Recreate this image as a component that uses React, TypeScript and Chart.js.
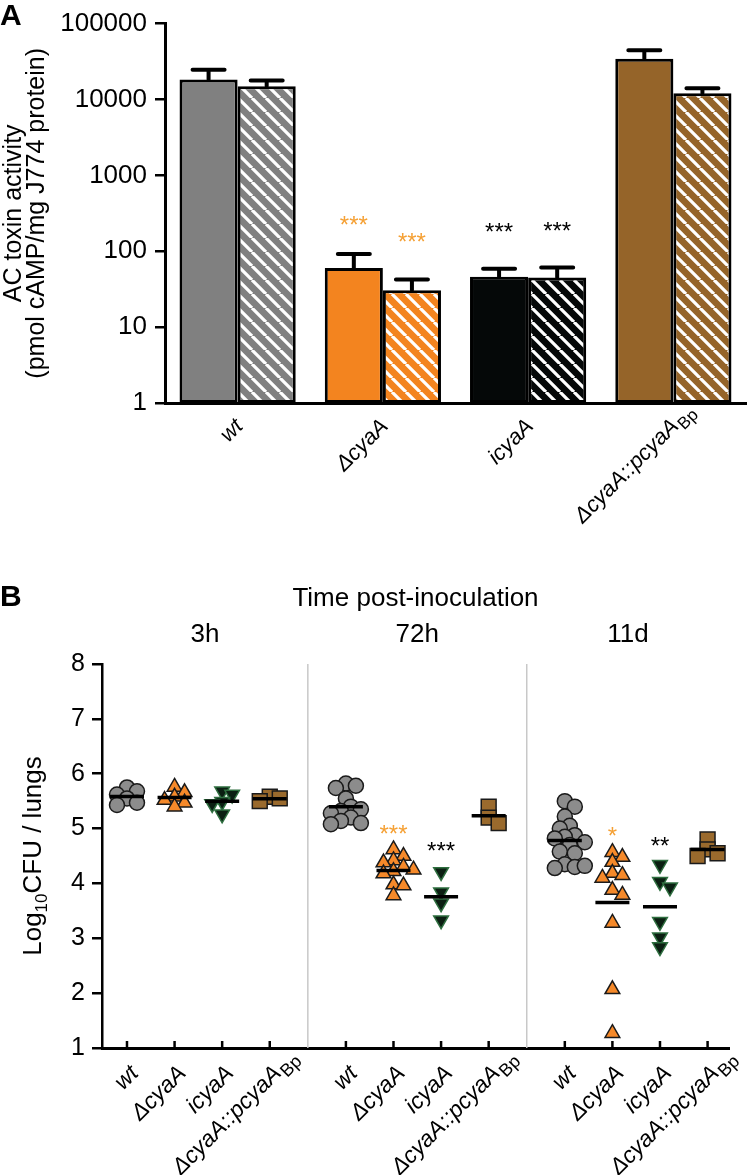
import React, { useEffect, useRef } from 'react';
import { Chart, registerables } from 'chart.js';

Chart.register(...registerables);

const FONT = '"Liberation Sans", Arial, Helvetica, sans-serif';

// ---------------- Panel A data ----------------
const strainsA = ['wt', 'ΔcyaA', 'icyaA', 'ΔcyaA::pcyaA'];
const strainSubs = ['', '', '', 'Bp'];
const solidValues = [18300, 60, 46, 34300];
const solidErr = [6400, 32, 13, 10400];
const hatchedValues = [14900, 30.5, 45, 12100];
const hatchedErr = [2900, 12, 16, 2000];
const barColors = ['#808080', '#F3841F', '#050808', '#956429'];
const yTicksA = [1, 10, 100, 1000, 10000, 100000];
const yTitleA = ['AC toxin activity', '(pmol cAMP/mg J774 protein)'];
// significance marks: [category, dataset, value at mark centre, text, colour]
const starsA: [number, number, number, string, string][] = [
  [1, 0, 269, '***', '#F5A034'],
  [1, 1, 157, '***', '#F5A034'],
  [2, 0, 212, '***', '#000000'],
  [2, 1, 218, '***', '#000000'],
];

// ---------------- Panel B data ----------------
const timeGroups = ['3h', '72h', '11d'];
const timeTitle = 'Time post-inoculation';
const wtB = [
  [5.75, 5.68, 5.62, 5.55, 5.47, 5.43],
  [5.82, 5.78, 5.74, 5.55, 5.40, 5.32, 5.35, 5.28, 5.20, 5.14, 5.10, 5.08],
  [5.50, 5.40, 5.22, 5.05, 5.00, 4.88, 4.85, 4.82, 4.75, 4.70, 4.58, 4.55, 4.35, 4.30, 4.28, 4.32],
];
const dcyaB = [
  [5.76, 5.66, 5.58, 5.52, 5.47, 5.40],
  [4.62, 4.50, 4.42, 4.38, 4.30, 4.25, 4.22, 4.18, 3.98, 3.96, 3.78],
  [4.57, 4.48, 4.39, 4.19, 4.15, 4.10, 3.88, 3.79, 3.28, 2.07, 1.27],
];
const icyaB = [
  [5.68, 5.62, 5.49, 5.45, 5.26],
  [4.21, 3.84, 3.64, 3.33],
  [4.34, 4.03, 3.93, 3.30, 3.02, 2.84],
];
const compB = [
  [5.58, 5.55, 5.50],
  [5.40, 5.20, 5.10],
  [4.80, 4.62, 4.55, 4.50],
];
const seriesB = [wtB, dcyaB, icyaB, compB];
const markerStyles = ['circle', 'triangle', 'triangle', 'rect'];
const markerRotation = [0, 0, 180, 0];
const markerRadius = [7.5, 8.5, 8.5, 10.5];
const markerFill = ['#8C8C8C', '#F5892A', '#0B1F12', '#9A6A2D'];
const markerEdge = ['#1a1a1a', '#1a1a1a', '#2E6E3F', '#1a1a1a'];
// significance marks: [group, strain, value at mark centre, text, colour]
const starsB: [number, number, number, string, string][] = [
  [1, 1, 5.01, '***', '#F5A034'],
  [1, 2, 4.70, '***', '#000000'],
  [2, 1, 4.97, '*', '#F5A034'],
  [2, 2, 4.79, '**', '#000000'],
];
const GROUP_STEP = 4.6;

// approximate pixel sizes of one data unit, used only to spread overlapping dots
const PX_X = 47.6;
const PX_Y = 54.86;

function swarm(vals: number[], minDist = 9.5, step = 5): number[] {
  const placed: [number, number][] = [];
  return vals.map((v) => {
    const y = v * PX_Y;
    for (let k = 0; k < 40; k++) {
      const off = k === 0 ? 0 : (k % 2 ? 1 : -1) * Math.ceil(k / 2) * step;
      if (placed.every(([px, py]) => Math.hypot(px - off, py - y) >= minDist)) {
        placed.push([off, y]);
        return off / PX_X;
      }
    }
    return 0;
  });
}

function hatch(color: string): CanvasPattern | string {
  const s = 14;
  const c = document.createElement('canvas');
  c.width = s;
  c.height = s;
  const g = c.getContext('2d');
  if (!g) return color;
  g.fillStyle = color;
  g.fillRect(0, 0, s, s);
  g.strokeStyle = '#ffffff';
  g.lineWidth = 3.2;
  g.beginPath();
  for (const o of [-s, 0, s]) {
    g.moveTo(o, 0);
    g.lineTo(o + s, s);
  }
  g.stroke();
  return g.createPattern(c, 'repeat') || color;
}

function drawRotLabel(ctx: CanvasRenderingContext2D, x: number, y: number, main: string, sub: string, size: number) {
  ctx.save();
  ctx.translate(x, y);
  ctx.rotate(-Math.PI / 4);
  ctx.fillStyle = '#000';
  ctx.textAlign = 'right';
  ctx.textBaseline = 'middle';
  ctx.font = `italic ${size}px ${FONT}`;
  ctx.fillText(main, 0, 0);
  if (sub) {
    ctx.textAlign = 'left';
    ctx.font = `${Math.round(size * 0.78)}px ${FONT}`;
    ctx.fillText(sub, 1, size * 0.32);
  }
  ctx.restore();
}

function drawStars(ctx: CanvasRenderingContext2D, x: number, yCenter: number, text: string, color: string, size: number) {
  ctx.save();
  ctx.font = `${size}px ${FONT}`;
  ctx.fillStyle = color;
  ctx.textAlign = 'center';
  ctx.textBaseline = 'alphabetic';
  ctx.fillText(text, x, yCenter + size * 0.58);
  ctx.restore();
}

const panelAPlugin = {
  id: 'panelA',
  afterDatasetsDraw(chart: any) {
    const { ctx, scales } = chart;
    const y = scales.y;
    const x = scales.x;
    const errs = [solidErr, hatchedErr];
    ctx.save();
    ctx.strokeStyle = '#000';
    ctx.lineWidth = 4;
    ctx.lineCap = 'round';
    [0, 1].forEach((d) => {
      const meta = chart.getDatasetMeta(d);
      meta.data.forEach((el: any, i: number) => {
        const v = chart.data.datasets[d].data[i] as number;
        const yt = y.getPixelForValue(v + errs[d][i]);
        ctx.beginPath();
        ctx.moveTo(el.x, el.y);
        ctx.lineTo(el.x, yt);
        ctx.moveTo(el.x - 16, yt);
        ctx.lineTo(el.x + 16, yt);
        ctx.stroke();
      });
    });
    ctx.restore();
    starsA.forEach(([cat, ds, val, text, color]) => {
      const el: any = chart.getDatasetMeta(ds).data[cat];
      drawStars(ctx, el.x, y.getPixelForValue(val), text, color, 24);
    });
    const axisY = chart.chartArea.bottom;
    strainsA.forEach((s, i) => {
      drawRotLabel(ctx, x.getPixelForValue(i) + 2, axisY + 20, s, strainSubs[i], 22);
    });
    ctx.save();
    ctx.font = `bold 30px ${FONT}`;
    ctx.fillStyle = '#000';
    ctx.textBaseline = 'alphabetic';
    ctx.textAlign = 'left';
    ctx.fillText('A', 0, 25);
    ctx.restore();
  },
};

const mean = (a: number[]) => a.reduce((s, v) => s + v, 0) / a.length;

const panelBPlugin = {
  id: 'panelB',
  beforeDatasetsDraw(chart: any) {
    const { ctx, scales, chartArea } = chart;
    const x = scales.x;
    ctx.save();
    ctx.strokeStyle = '#C8C8C8';
    ctx.lineWidth = 1.5;
    for (let g = 1; g < timeGroups.length; g++) {
      const px = x.getPixelForValue(g * GROUP_STEP - (GROUP_STEP - 3) / 2);
      ctx.beginPath();
      ctx.moveTo(px, chartArea.top);
      ctx.lineTo(px, chartArea.bottom);
      ctx.stroke();
    }
    ctx.restore();
  },
  afterDatasetsDraw(chart: any) {
    const { ctx, scales, chartArea } = chart;
    const x = scales.x;
    const y = scales.y;
    // mean lines
    ctx.save();
    ctx.strokeStyle = '#000';
    ctx.lineWidth = 3.5;
    seriesB.forEach((ser, s) => {
      ser.forEach((vals, g) => {
        const cx = x.getPixelForValue(g * GROUP_STEP + s);
        const cy = y.getPixelForValue(mean(vals));
        ctx.beginPath();
        ctx.moveTo(cx - 17, cy);
        ctx.lineTo(cx + 17, cy);
        ctx.stroke();
      });
    });
    // inward ticks on the x axis
    ctx.lineWidth = 2.5;
    timeGroups.forEach((_, g) => {
      strainsA.forEach((__, s) => {
        const px = x.getPixelForValue(g * GROUP_STEP + s);
        ctx.beginPath();
        ctx.moveTo(px, chartArea.bottom);
        ctx.lineTo(px, chartArea.bottom - 7);
        ctx.stroke();
      });
    });
    ctx.restore();
    starsB.forEach(([g, s, val, text, color]) => {
      drawStars(ctx, x.getPixelForValue(g * GROUP_STEP + s), y.getPixelForValue(val), text, color, 24);
    });
    // category labels
    timeGroups.forEach((_, g) => {
      strainsA.forEach((name, s) => {
        drawRotLabel(ctx, x.getPixelForValue(g * GROUP_STEP + s) + 8, chartArea.bottom + 22, name, strainSubs[s], 23);
      });
    });
    // titles
    ctx.save();
    ctx.fillStyle = '#000';
    ctx.textAlign = 'center';
    ctx.textBaseline = 'alphabetic';
    ctx.font = `26px ${FONT}`;
    ctx.fillText(timeTitle, (chartArea.left + chartArea.right) / 2, 36);
    const seps = [x.left, ...[1, 2].map((g) => x.getPixelForValue(g * GROUP_STEP - (GROUP_STEP - 3) / 2)), x.right];
    timeGroups.forEach((t, g) => {
      ctx.fillText(t, (seps[g] + seps[g + 1]) / 2, 72);
    });
    ctx.textAlign = 'left';
    ctx.font = `bold 30px ${FONT}`;
    ctx.fillText('B', 0, 36);
    ctx.restore();
    // y title with subscript
    ctx.save();
    const cy = (chartArea.top + chartArea.bottom) / 2;
    ctx.translate(41, cy);
    ctx.rotate(-Math.PI / 2);
    ctx.fillStyle = '#000';
    ctx.textBaseline = 'alphabetic';
    ctx.textAlign = 'left';
    const big = `26px ${FONT}`;
    const small = `17px ${FONT}`;
    ctx.font = big;
    const w1 = ctx.measureText('Log').width;
    const w3 = ctx.measureText('CFU / lungs').width;
    ctx.font = small;
    const w2 = ctx.measureText('10').width;
    let px = -(w1 + w2 + w3) / 2;
    ctx.font = big;
    ctx.fillText('Log', px, 0);
    px += w1;
    ctx.font = small;
    ctx.fillText('10', px, 6);
    px += w2;
    ctx.font = big;
    ctx.fillText('CFU / lungs', px, 0);
    ctx.restore();
  },
};

export default function App() {
  const refA = useRef<HTMLCanvasElement>(null);
  const refB = useRef<HTMLCanvasElement>(null);

  useEffect(() => {
    Chart.defaults.font.family = FONT;
    Chart.defaults.color = '#000';

    const chartA = new Chart(refA.current as HTMLCanvasElement, {
      type: 'bar',
      data: {
        labels: strainsA,
        datasets: [
          {
            label: 'solid',
            data: solidValues,
            backgroundColor: barColors,
            borderColor: '#000',
            borderWidth: 3,
            borderSkipped: false,
            categoryPercentage: 0.8,
            barPercentage: 1.0,
          },
          {
            label: 'hatched',
            data: hatchedValues,
            backgroundColor: barColors.map(hatch) as any,
            borderColor: '#000',
            borderWidth: 3,
            borderSkipped: false,
            categoryPercentage: 0.8,
            barPercentage: 1.0,
          },
        ],
      },
      options: {
        responsive: false,
        animation: false,
        devicePixelRatio: 1,
        events: [],
        layout: { padding: { left: 0, right: 4, top: 16, bottom: 0 } },
        plugins: { legend: { display: false }, tooltip: { enabled: false } },
        scales: {
          x: {
            type: 'category',
            grid: { display: false },
            border: { display: true, color: '#000', width: 3 },
            ticks: { display: false },
            afterFit: (s: any) => { s.height = 167; },
          },
          y: {
            type: 'logarithmic',
            min: 1,
            max: 100000,
            afterBuildTicks: (s: any) => { s.ticks = yTicksA.map((v) => ({ value: v })); },
            ticks: {
              autoSkip: false,
              callback: (v: any) => String(v),
              font: { size: 26 },
              color: '#000',
              padding: 8,
            },
            grid: { drawOnChartArea: false, drawTicks: true, tickLength: 10, color: '#000', lineWidth: 2.5 },
            border: { display: true, color: '#000', width: 3 },
            title: {
              display: true,
              text: yTitleA,
              font: { size: 25, lineHeight: 0.92 },
              color: '#000',
              padding: { top: 3, bottom: 0 },
            },
            afterFit: (s: any) => { s.width = 165; },
          },
        },
      } as any,
      plugins: [panelAPlugin],
    });

    const datasetsB = seriesB.map((ser, s) => ({
      label: strainsA[s],
      data: ser.flatMap((vals, g) => {
        const offs = swarm(vals);
        return vals.map((v, k) => ({ x: g * GROUP_STEP + s + offs[k], y: v }));
      }),
      pointStyle: markerStyles[s],
      rotation: markerRotation[s],
      pointRadius: markerRadius[s],
      backgroundColor: markerFill[s],
      borderColor: markerEdge[s],
      borderWidth: 1.5,
      showLine: false,
    }));

    const chartB = new Chart(refB.current as HTMLCanvasElement, {
      type: 'scatter',
      data: { datasets: datasetsB as any },
      options: {
        responsive: false,
        animation: false,
        devicePixelRatio: 1,
        events: [],
        layout: { padding: { left: 0, right: 21, top: 94, bottom: 0 } },
        plugins: { legend: { display: false }, tooltip: { enabled: false } },
        scales: {
          x: {
            type: 'linear',
            min: -0.525,
            max: 12.65,
            grid: { display: false },
            border: { display: true, color: '#000', width: 3 },
            ticks: { display: false },
            afterFit: (s: any) => { s.height = 127; },
          },
          y: {
            type: 'linear',
            min: 1,
            max: 8,
            ticks: { stepSize: 1, font: { size: 25 }, color: '#000', padding: 7, autoSkip: false },
            grid: { drawOnChartArea: false, drawTicks: true, tickLength: 10, color: '#000', lineWidth: 2.5 },
            border: { display: true, color: '#000', width: 2.5 },
            afterFit: (s: any) => { s.width = 102; },
          },
        },
      } as any,
      plugins: [panelBPlugin],
    });

    return () => {
      chartA.destroy();
      chartB.destroy();
    };
  }, []);

  return (
    <div style={{ position: 'absolute', left: 0, top: 0, width: 750, height: 1175, background: '#fff' }}>
      <canvas ref={refA} width={750} height={570} style={{ display: 'block', width: 750, height: 570 }} />
      <canvas ref={refB} width={750} height={605} style={{ display: 'block', width: 750, height: 605 }} />
    </div>
  );
}
